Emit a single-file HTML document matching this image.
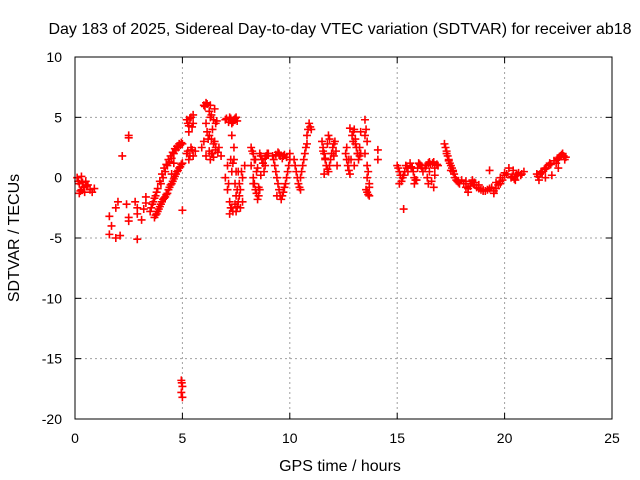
<!DOCTYPE html>
<html><head><meta charset="utf-8"><style>
body{margin:0;background:#fff;}
svg{display:block;font-family:"Liberation Sans",sans-serif;}
</style></head><body>
<svg id="chart" width="640" height="480">
<text x="340" y="34" text-anchor="middle" font-size="16">Day 183 of 2025, Sidereal Day-to-day VTEC variation (SDTVAR) for receiver ab18</text>
<text x="340" y="471" text-anchor="middle" font-size="16">GPS time / hours</text>
<text transform="translate(19,238) rotate(-90)" text-anchor="middle" font-size="16">SDTVAR / TECUs</text>
<g id="grid"></g><g id="ticks"></g><g id="marks"></g>
<rect x="75" y="57" width="537" height="362" fill="none" stroke="#000"/>
</svg>
<script>
const xTicks=[0,5,10,15,20,25];
const yTicks=[10,5,0,-5,-10,-15,-20];
const times=[0.1,0.2,0.3,0.4,0.5,0.3,0.2,0.6,0.7,0.8,0.9,
1.6,1.6,1.7,1.9,2.1,1.9,2.0,2.2,2.5,2.5,2.4,2.5,2.5,2.8,2.9,2.9,2.9,3.2,3.3,3.1,3.3,
3.5,3.6,3.7,3.8,4.0,4.1,4.2,4.3,4.4,4.5,4.6,4.7,4.8,4.9,5.0,
3.7,3.8,3.9,4.0,4.1,4.2,4.3,4.4,4.5,4.6,4.7,4.8,4.9,5.0,4.6,4.5,
5.0,4.95,5.0,4.95,5.0,4.97,
5.2,5.3,5.4,5.5,5.3,5.5,5.2,5.3,5.4,5.5,5.6,
6.0,6.1,6.3,6.5,6.1,6.3,6.6,6.4,6.2,6.5,6.7,6.8,6.4,6.0,5.9,6.1,6.3,
7.0,7.2,7.3,7.4,7.5,7.3,7.4,7.4,7.5,
7.0,7.1,7.2,7.2,7.3,7.5,7.5,7.6,7.7,7.8,7.9,7.1,7.3,7.6,7.7,7.8,
8.2,8.3,8.2,8.3,8.4,8.5,8.6,8.4,8.6,8.7,8.8,8.9,9.0,8.3,8.5,
9.2,9.3,9.4,9.5,9.6,9.7,9.8,9.9,9.5,9.7,10,10,9.4,
10.2,10.3,10.4,10.5,10.6,10.7,10.8,10.9,11,10.8,10.5,
11.5,11.6,11.7,11.8,11.9,12,12.1,11.6,11.8,12.2,
12.6,12.7,12.8,12.9,13,13.1,13.2,13.3,12.8,13.0,13.3,
13.5,13.5,13.6,13.6,13.7,13.6,13.7,13.5,14.1,14.1,
15,15.1,15.2,15.3,15.4,15.5,15.1,15.3,
15.6,15.7,15.8,15.9,16,16.1,16.2,15.8,
16.3,16.5,16.7,16.9,16.5,16.7,16.4,
17.2,17.3,17.4,17.5,17.6,17.7,17.8,17.9,
18.0,18.2,18.4,18.6,18.8,19.0,18.3,18.5,19.3,
19.2,19.4,19.6,19.8,20,19.5,19.8,20.2,
20.3,20.5,20.6,20.8,20.4,20.9,
21.5,21.7,21.9,22.1,21.6,21.9,22.2,
22.4,22.5,22.6,22.7,22.8,22.5,
0.15,0.25,0.35,0.45,0.55,
3.55,3.65,3.75,3.85,3.95,4.05,4.15,4.25,4.35,4.45,4.55,4.65,4.75,4.85,4.95,
3.75,3.85,3.95,4.05,4.15,4.25,4.35,4.45,4.55,4.65,4.75,4.85,4.95,
5.25,5.35,5.45,5.25,5.35,5.45,
6.05,6.15,6.25,6.35,6.45,6.55,6.15,6.25,6.35,6.45,6.55,6.25,6.35,6.45,6.55,6.65,
7.05,7.15,7.25,7.35,7.45,7.55,7.15,7.25,7.35,7.45,7.55,7.65,7.25,7.35,7.45,7.55,7.65,7.75,
8.25,8.35,8.45,8.55,8.65,8.75,8.85,8.95,8.35,8.45,8.55,8.65,8.75,8.85,
9.25,9.35,9.45,9.55,9.65,9.75,9.85,9.95,9.35,9.45,9.55,9.65,9.75,9.85,
10.25,10.35,10.45,10.55,10.65,10.75,10.85,10.95,
11.55,11.65,11.75,11.85,11.95,12.05,11.55,11.65,11.75,11.85,11.95,12.05,12.15,
12.65,12.75,12.85,12.95,13.05,13.15,13.25,12.65,12.75,12.95,13.05,13.15,13.25,
13.55,13.6,13.65,13.7,13.55,13.65,
15.05,15.15,15.25,15.35,15.45,15.65,15.75,15.85,15.95,16.05,16.15,16.35,16.45,16.55,16.65,16.75,16.85,16.45,16.6,16.75,
17.25,17.35,17.45,17.55,17.65,17.75,17.85,17.3,17.4,17.5,17.6,17.7,
18.1,18.3,18.5,18.7,18.9,19.1,19.3,19.5,19.7,19.9,20.1,18.2,18.4,18.6,18.8,19.0,19.6,19.8,20.0,
20.35,20.45,20.55,20.65,20.75,21.55,21.65,21.75,21.85,21.95,22.05,22.15,22.3,22.45,22.55,22.65,22.75,22.85];
const values=[0,-0.5,-1,-0.8,-0.3,0.1,-1.3,-0.6,-1,-1.2,-0.9,
-3.2,-4.7,-4,-5,-4.8,-2.5,-2,1.8,3.5,3.3,-2.2,-3.3,-3.6,-2,-2.5,-3,-5.1,-2.6,-2.1,-3.5,-1.6,
-2.8,-2.2,-1.7,-1.2,-0.5,0,0.5,1,1.3,1.6,2,2.3,2.5,2.7,2.8,
-3.3,-3,-2.6,-2.2,-1.8,-1.6,-1.3,-0.8,-0.5,-0.1,0.3,0.6,0.9,1.2,1.2,0.3,
-2.7,-16.8,-17.3,-17.8,-18.2,-17,
4.8,4.3,5,4.5,3.8,5.2,2,1.5,2.5,1.8,2.2,
6,6.2,6,5.7,4.5,5,4.7,4,3.2,3,2.5,1.8,2,3,2.5,1.8,1.5,
4.8,5,4.5,4.8,5,3.5,2.5,1.5,0.5,
0,-1,-2,-3,-2.5,-1.5,-2.8,-2,-1,0,1,1,0.5,0.5,-2.5,-2,
2.5,2,1,0,-1,-1.8,-1,1.5,2,1.5,0.5,1.8,2,-0.5,0.8,
1.8,1,0,-1,-1.8,-1.2,-0.5,0.5,2,1.8,1.5,2,-1.5,
1.5,0.5,-0.5,0,1,2,3.5,4.5,4,2.8,-1,
3,2,1,0.5,1.5,2.5,3,0.3,3.5,1,
2,1,0.3,3.5,4,2.5,1.5,2,4.1,1,3.8,
4.8,3.5,1,0,-0.5,-1.2,-1.5,2,2.3,1.5,
1,0.5,-0.3,0.2,1,0.5,-0.5,-2.6,
1.2,0.8,0,-0.2,1.2,1,0.5,-0.5,
0.8,1.3,1.3,1,0.5,-0.8,0,
2.8,2,1.5,1,0.5,0,-0.3,-0.5,
-0.2,-0.8,-0.5,-0.6,-0.9,-1,-1.2,-0.2,0.6,
-1,-0.8,-0.4,0,0.4,-1.3,-0.5,0.8,
0,-0.2,0.2,0.3,0.6,0.5,
0.3,0.5,0.8,1.2,-0.2,0,0.2,
1.2,1.5,1.8,2,1.5,0.8,
-0.3,-1.1,-0.4,-1.2,-0.7,
-2.5,-2,-1.5,-0.9,-0.3,0.3,0.8,1.1,1.5,1.8,2.1,2.4,2.6,2.8,2.9,
-3.1,-2.8,-2.4,-2,-1.7,-1.4,-1,-0.6,-0.3,0.1,0.5,0.8,1.1,
4.5,4.9,4.2,2.2,1.8,2.3,
5.9,6.1,5.5,5.2,4.8,4.5,3.8,3.5,3.2,2.8,2.5,2.2,2.0,1.7,2.3,2.1,
4.9,4.6,4.9,4.6,4.9,4.7,-0.5,-2.5,-2.8,-2.2,-2.4,-1.5,1.5,1.2,-0.5,-1,-0.5,0.5,
2.2,1.5,0.5,-1.5,1.8,1.2,1.0,2.0,-0.5,-1.3,-0.8,0.2,1.2,1.6,
1.5,0.5,-0.5,-1.5,-1.5,-0.8,0,1,1.9,2.1,1.8,1.6,1.9,1.7,
1.0,0,-0.8,0.5,1.5,2.5,4,4.2,
2.5,1.5,0.7,1,2,2.8,2.2,1.6,2.8,3.2,2,1.8,2.2,
1.5,0.6,1.5,3.8,3.2,2,1.8,2.5,1.5,3,2.8,2,2.5,
4,3,0.5,-0.8,-1,-1.4,
0.8,0.2,0,0.5,0.8,0.9,0.5,-0.2,0.8,1.1,0.8,1.0,1.2,1.1,1.2,0.8,1.1,-0.5,-0.3,0.2,
2.5,1.8,1.2,0.8,0.3,-0.2,-0.4,2.2,1.4,0.6,0.6,0,
-0.5,-0.9,-0.3,-0.8,-1,-1.1,-0.9,-1.1,-0.6,-0.2,0.3,-0.3,-0.7,-0.4,-0.6,-1.1,-0.9,-0.3,0.2,
0.1,-0.1,0.3,0.4,0.2,0.1,0.3,0.4,0.7,0.8,1,1.1,1.4,1.6,1.7,1.9,1.8,1.7];
const NS='http://www.w3.org/2000/svg';
const X0=75,X1=612,Y0=419,Y1=57;
function xs(t){return X0+(t-0)/25*(X1-X0);}
function ys(v){return Y0-(v+20)/30*(Y0-Y1);}
function mk(tag,attrs,parent){const e=document.createElementNS(NS,tag);for(const k in attrs)e.setAttribute(k,attrs[k]);parent.appendChild(e);return e;}
const grid=document.getElementById('grid'),ticks=document.getElementById('ticks'),marks=document.getElementById('marks');
xTicks.forEach(t=>{const x=xs(t);
 if(t>0&&t<25){const l=mk('line',{x1:x,x2:x,y1:Y0,y2:Y1,stroke:'#a0a0a0','stroke-dasharray':'2,3'},grid);
 
 }
 mk('line',{x1:x,x2:x,y1:Y0,y2:Y0-6,stroke:'#000'},ticks);
 mk('line',{x1:x,x2:x,y1:Y1,y2:Y1+6,stroke:'#000'},ticks);
 const tx=mk('text',{x:x,y:443,'text-anchor':'middle','font-size':'14'},ticks);tx.textContent=t;
 
 });
yTicks.forEach(v=>{const y=ys(v);
 if(v>-20&&v<10){const l=mk('line',{x1:X0,x2:X1,y1:y,y2:y,stroke:'#a0a0a0','stroke-dasharray':'2,3'},grid);
 
 }
 mk('line',{x1:X0,x2:X0+6,y1:y,y2:y,stroke:'#000'},ticks);
 mk('line',{x1:X1,x2:X1-6,y1:y,y2:y,stroke:'#000'},ticks);
 const tx=mk('text',{x:62,y:y+5,'text-anchor':'end','font-size':'14'},ticks);tx.textContent=v;
 
 });
times.forEach((t,i)=>{const x=xs(t),y=ys(values[i]);
 const p=mk('path',{d:`M${x-4},${y}h8M${x},${y-4}v8`,stroke:'#ff0000','stroke-width':'1.6',fill:'none'},marks);
 
 });
</script>
</body></html>
